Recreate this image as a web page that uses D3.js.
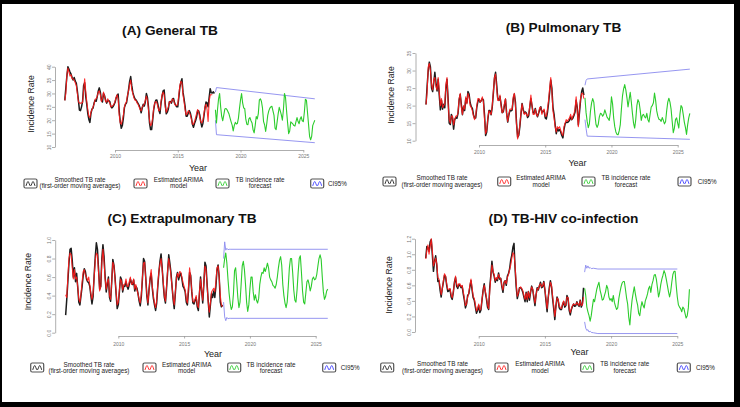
<!DOCTYPE html>
<html><head><meta charset="utf-8">
<script src="https://cdn.jsdelivr.net/npm/d3@7"></script>
<style>body{margin:0;background:#000} svg{display:block;font-family:"Liberation Sans",Arial,sans-serif}</style>
</head><body><svg id="c" width="740" height="407"></svg>
<script>
// ---------------- data ----------------
const startYear = 2006, forecastStart = 2018;
const xTickYears = [2010, 2015, 2020, 2025];
const titles = ["(A) General TB", "(B) Pulmonary TB", "(C) Extrapulmonary TB", "(D) TB-HIV co-infection"];
const legendLabels = [["Smoothed TB rate", "(first-order moving averages)"], ["Estimated ARIMA", "model"], ["TB incidence rate", "forecast"], ["CI95%"]];
const yAxisTitle = "Incidence Rate", xAxisTitle = "Year";

// (A) General TB
const aYTicks = [10, 15, 20, 25, 30, 35, 40];
const aBlack = [27.4,32,36.5,40,39,38,37.2,36,35,36,34.6,33.9,31,27.5,23.8,23.6,25,27,33,34,29,26,22.5,20.3,19.2,22.5,24.2,24.5,26.4,27.5,27.1,28.8,30.9,32.1,30.5,27.5,26.8,30,29.2,27.5,26.4,27.3,27.4,27,25.3,24.6,25,25.7,26.6,28.2,29.3,29.8,23.5,19.5,17,18,20.8,24.7,26,26.5,28.9,31.5,34.5,36.3,33,30.5,29,28,27.6,27,26.3,25.6,24.5,22.8,24.5,26,25.3,26.8,30,28.5,25,19,16.5,16.5,20,24,26.3,27.5,27.6,25.9,23.6,22.5,26.4,29,31,31.3,26.2,22.4,23,24.2,26.9,27,26.4,28,28.1,26.4,25.6,25,25,28.5,32.3,34.3,35.5,30.5,28,25.2,21.5,21.5,22.6,23.6,22.7,21,18.5,17.4,18.8,19.8,21.2,23.6,23.5,22,19.3,17.5,18.8,21.5,24.5,26.8,26.5,25,28.5,31.8,30.3,30.2,30.6,30];
const aRed = [27.4,30,37,39.5,38,36.5,37,35.5,35.5,35,34,33,30,27,26.4,26.4,26.4,26.6,31,35.5,31,27,24,21.5,21,23,24,25,26,27.8,28,29,30.5,31,29.5,27,28,30.5,29,27,26.8,28,27,26.6,25,25.2,25.5,26,27,28.5,29.5,28,22,19,18.5,20,22,25,26.2,27,29.5,31,33.5,35,31.5,30,28.5,27.5,27.5,26.5,26,25,24,23.5,25,25.5,26,27.5,29,27.5,24,20,18,18.5,21,24.5,26.5,27,26.5,25,23.5,23.8,27,29.5,30.5,29.5,25,23,24,25,27,26.5,27,28,27.5,26,25.5,25.5,26,29.5,33,34.5,34,29.5,27,24,22,22.5,23.5,23,22,20.5,18.5,18.5,19.5,21,22.5,24,23,21,19.5,19,20,22.5,25,26,24,19.5,27,29.5,29.5,29.5];
const aGreen = [23.9,19,24,28,30,25,21.4,19.8,22,24.2,24.4,24,23.2,22.3,20.8,19.4,18.2,16,18,19.2,18.6,18.8,20.8,24.5,27.6,30,26.5,24.6,24.4,20.5,18.5,18.3,20.5,21,19.8,19,16.4,15.3,18,21.4,20.5,22.5,27.6,28,27,24.5,19.5,18.3,15.8,18.5,21.8,23.5,24.5,25,25.2,23.5,21.8,17,16.5,19.5,22.5,24.8,23.5,22,20,24,30,28.5,23.5,19,15,16,19.4,19,18.6,18,17.8,19.5,21,19.5,18.7,20.5,21.3,19.8,19.5,23,27.8,27.5,23,18.5,14,12.7,14,18,19,20];
const aCiYears = [2018, 2018.083, 2025.917];
const aCiUpper = [30.5, 32.2, 28.0];
const aCiLower = [20, 14.6, 11.6];

// (B) Pulmonary TB
const bYTicks = [10, 15, 20, 25, 30, 35];
const bBlack = [20.3,25.5,30,32.4,31,25,24,26.5,29.5,26.5,24.2,27.5,23,18.8,21.5,19,20.4,19.4,25,27.5,22,15,14.6,17.5,16.5,13.3,16,16.6,16.4,17.8,21.6,23.2,20.4,17.4,19.7,18.6,22,20.8,24,23.3,20.8,19.7,19.2,17.4,16.4,16.5,19.5,21.2,21.8,21,21.4,22,21.6,17.4,11.5,12.5,16,18.6,18.6,17.4,19.6,23.5,27.8,29.5,26,22,21.5,22.6,20.4,18,18.2,20,21.8,18,15.3,17.2,18.6,18.5,18.7,21.8,23.3,21,15,11,11.5,14,17.5,20.6,19,17.8,18.2,17.8,16.6,17.1,19.5,22,20,18,17.8,19.2,17.7,16.8,17.8,18.9,19.7,18,18.4,18.6,16.5,16.2,18,20.6,23.8,27.3,25,19.5,17.5,14.5,12,13.4,12.8,13.2,12.5,11.5,10.8,13.2,14.8,15.3,15.2,15.4,15.8,16.8,16,16.4,17.2,18.2,21.5,19.5,14.5,18,21.5,24,25,23];
const bRed = [20.3,24,31,32,30,26,24.5,27.5,28,25.5,24.5,28,24,20,22,19.5,20,20.5,26,28,21,16,15,17,17,14.5,16,17,17,18,22,23.5,19.5,17.5,20,19,22.5,20.5,23.5,22.5,20,19.5,18.5,17,16,17,20,22,22,21,21.5,22.5,21,16,12,13,16.5,18.5,18,17.5,20,24,28,29,25,21.5,21.5,23,20,18,18.5,20.5,22,17.5,15.5,17.5,19,19,19,22.5,23.5,20,14.5,10.5,12,14.5,18,20.5,18.5,17.5,18,17.5,17,17.5,20,23,20,17.5,17.5,19,17.5,17,18,19.5,19.5,17.5,18.5,19,17,17,19,21.5,25,28,24,18.5,16.5,14,12.5,14,13.5,14,13,12,11.5,14,15,16,15.5,16,16.5,17.5,16,17,17.5,19,22.5,18.5,14,19,22,23.5,23.5,22];
const bGreen = [22.2,18,15.5,13.7,14.8,18.5,20.8,22,21,17.5,14.6,13.8,14.6,16.8,17.8,17.6,17,17.5,18.8,17.8,16.7,16.3,15.8,18,22.5,20.5,16.5,14,12.5,11.8,11.7,12.8,14.6,19,22.8,24.8,26,24.5,22.3,19.6,21.7,23.8,21,17.8,15,13.6,16,20,21.7,21,18.8,15.8,17.2,17.5,16.8,16.5,17.8,16,15.3,17.5,19.6,20,20.8,23.6,21.5,18.5,17,16.1,16,15.5,16.6,15.8,14.8,15.4,18.5,21,22.1,21,19,15.5,12.3,13.6,16,16.5,15,13.6,17.5,20,19.5,17.5,15.3,13.8,11.8,14.5,16.5,17.8];
const bCiYears = [2018, 2018.083, 2018.167, 2025.917];
const bCiUpper = [25.8, 27.2, 27.6, 30.4];
const bCiLower = [16, 13.5, 11.3, 10.4];

// (C) Extrapulmonary TB
const cYTicks = [0, 0.2, 0.4, 0.6, 0.8, 1.0];
const cBlack = [0.19,0.36,0.55,0.75,0.9,0.91,0.78,0.6,0.7,0.55,0.64,0.49,0.33,0.3,0.4,0.5,0.62,0.69,0.66,0.58,0.55,0.54,0.5,0.4,0.31,0.39,0.62,0.82,0.97,0.9,0.68,0.47,0.5,0.8,0.95,0.82,0.6,0.44,0.52,0.6,0.38,0.34,0.55,0.79,0.73,0.6,0.42,0.26,0.3,0.44,0.6,0.57,0.44,0.5,0.5,0.55,0.5,0.47,0.52,0.58,0.54,0.52,0.57,0.45,0.5,0.48,0.42,0.34,0.29,0.39,0.58,0.8,0.77,0.6,0.4,0.3,0.46,0.58,0.64,0.48,0.37,0.3,0.24,0.32,0.5,0.65,0.77,0.85,0.7,0.52,0.38,0.32,0.48,0.66,0.84,0.75,0.65,0.5,0.36,0.26,0.42,0.6,0.65,0.57,0.62,0.64,0.58,0.5,0.48,0.44,0.33,0.3,0.45,0.65,0.62,0.44,0.32,0.31,0.35,0.38,0.28,0.24,0.42,0.6,0.45,0.32,0.52,0.76,0.72,0.52,0.34,0.17,0.3,0.42,0.38,0.45,0.38,0.5,0.68,0.73,0.6,0.33,0.28,0.3];
const cRed = [0.41,0.38,0.6,0.8,0.86,0.84,0.7,0.58,0.68,0.58,0.6,0.5,0.36,0.33,0.42,0.55,0.66,0.68,0.62,0.6,0.56,0.6,0.52,0.42,0.36,0.43,0.6,0.78,0.86,0.84,0.65,0.45,0.5,0.76,0.9,0.76,0.58,0.47,0.55,0.58,0.4,0.36,0.55,0.76,0.72,0.58,0.44,0.3,0.33,0.46,0.58,0.55,0.46,0.52,0.52,0.58,0.5,0.5,0.55,0.6,0.52,0.53,0.58,0.47,0.52,0.46,0.42,0.36,0.32,0.42,0.6,0.75,0.76,0.58,0.42,0.32,0.45,0.6,0.68,0.5,0.4,0.32,0.27,0.35,0.52,0.66,0.74,0.8,0.68,0.55,0.4,0.34,0.5,0.68,0.8,0.72,0.62,0.5,0.38,0.3,0.44,0.58,0.64,0.6,0.66,0.65,0.6,0.54,0.5,0.46,0.36,0.32,0.5,0.7,0.6,0.45,0.34,0.33,0.36,0.4,0.3,0.27,0.44,0.58,0.46,0.35,0.55,0.72,0.68,0.5,0.33,0.22,0.32,0.44,0.46,0.48,0.44,0.55,0.7,0.72,0.6,0.4,0.3,0.28];
const cGreen = [0.7,0.8,0.86,0.75,0.58,0.43,0.32,0.25,0.28,0.42,0.67,0.7,0.55,0.38,0.27,0.33,0.52,0.72,0.77,0.68,0.52,0.33,0.23,0.3,0.47,0.6,0.6,0.44,0.35,0.41,0.35,0.32,0.37,0.52,0.6,0.65,0.64,0.7,0.66,0.7,0.75,0.7,0.6,0.57,0.55,0.51,0.5,0.48,0.52,0.6,0.7,0.78,0.82,0.73,0.52,0.4,0.32,0.27,0.33,0.5,0.7,0.8,0.8,0.65,0.46,0.35,0.33,0.46,0.65,0.8,0.83,0.65,0.45,0.33,0.31,0.43,0.55,0.57,0.52,0.45,0.5,0.58,0.6,0.57,0.58,0.63,0.72,0.8,0.84,0.79,0.6,0.44,0.36,0.39,0.45,0.47];
const cCiYears = [2018, 2018.083, 2018.167, 2018.25, 2018.333, 2018.417, 2018.5, 2025.917];
const cCiUpper = [0.8, 0.98, 0.89, 0.91, 0.895, 0.9, 0.9, 0.9];
const cCiLower = [0.33, 0.17, 0.13, 0.165, 0.15, 0.155, 0.155, 0.155];

// (D) TB-HIV co-infection
const dYTicks = [0, 0.2, 0.4, 0.6, 0.8, 1.0, 1.2];
const dBlack = [0.95,1.1,1.08,1.04,1.16,1.19,0.99,0.78,0.91,0.98,0.86,0.65,0.66,0.54,0.45,0.56,0.64,0.73,0.71,0.6,0.52,0.53,0.55,0.45,0.42,0.51,0.64,0.7,0.59,0.56,0.61,0.6,0.57,0.59,0.49,0.41,0.31,0.36,0.47,0.49,0.58,0.66,0.54,0.44,0.41,0.32,0.24,0.28,0.34,0.25,0.28,0.41,0.54,0.62,0.51,0.43,0.32,0.29,0.57,0.73,0.91,0.77,0.72,0.64,0.69,0.66,0.76,0.68,0.69,0.58,0.51,0.64,0.66,0.6,0.72,0.75,0.81,0.92,0.99,1.09,1.14,0.81,0.58,0.43,0.49,0.57,0.57,0.55,0.51,0.45,0.39,0.51,0.39,0.52,0.41,0.51,0.59,0.54,0.44,0.34,0.48,0.57,0.54,0.59,0.64,0.57,0.58,0.65,0.54,0.4,0.26,0.44,0.57,0.66,0.58,0.43,0.3,0.16,0.34,0.45,0.41,0.31,0.29,0.29,0.35,0.39,0.32,0.34,0.47,0.43,0.28,0.22,0.29,0.33,0.36,0.33,0.34,0.39,0.35,0.33,0.41,0.32,0.36,0.57];
const dRed = [0.94,1.05,1.12,1.0,1.1,1.2,1.05,0.85,0.9,0.95,0.88,0.7,0.68,0.58,0.48,0.55,0.66,0.75,0.72,0.62,0.55,0.55,0.56,0.48,0.44,0.52,0.63,0.72,0.62,0.58,0.62,0.62,0.58,0.6,0.52,0.44,0.34,0.36,0.45,0.5,0.6,0.68,0.57,0.46,0.43,0.35,0.27,0.3,0.36,0.28,0.3,0.42,0.52,0.6,0.53,0.45,0.35,0.3,0.52,0.7,0.86,0.78,0.74,0.66,0.7,0.68,0.74,0.7,0.68,0.6,0.54,0.63,0.66,0.62,0.7,0.74,0.8,0.86,0.95,1.02,1.0,0.85,0.62,0.46,0.5,0.56,0.58,0.56,0.53,0.47,0.42,0.5,0.42,0.52,0.44,0.52,0.58,0.55,0.46,0.37,0.47,0.56,0.55,0.6,0.62,0.58,0.6,0.64,0.55,0.43,0.3,0.44,0.55,0.64,0.6,0.46,0.34,0.2,0.32,0.44,0.42,0.34,0.31,0.3,0.36,0.4,0.34,0.35,0.45,0.44,0.3,0.25,0.3,0.34,0.36,0.35,0.35,0.38,0.36,0.34,0.4,0.34,0.35,0.45];
const dGreen = [0.56,0.47,0.32,0.26,0.21,0.14,0.21,0.32,0.42,0.39,0.47,0.55,0.6,0.64,0.54,0.48,0.41,0.42,0.47,0.52,0.6,0.56,0.45,0.41,0.43,0.39,0.47,0.38,0.33,0.29,0.31,0.43,0.51,0.58,0.63,0.65,0.65,0.55,0.44,0.36,0.19,0.09,0.27,0.41,0.5,0.58,0.49,0.41,0.35,0.24,0.21,0.32,0.39,0.34,0.31,0.4,0.44,0.49,0.56,0.59,0.51,0.61,0.66,0.73,0.74,0.68,0.57,0.45,0.51,0.61,0.68,0.73,0.79,0.75,0.68,0.6,0.52,0.45,0.52,0.64,0.74,0.78,0.78,0.6,0.45,0.35,0.32,0.3,0.26,0.32,0.3,0.24,0.18,0.21,0.31,0.55];
const dCiYears = [2018, 2018.083, 2018.167, 2018.25, 2018.333, 2018.417, 2018.5, 2018.667, 2019, 2025];
const dCiUpper = [0.77, 0.86, 0.82, 0.85, 0.82, 0.83, 0.815, 0.82, 0.81, 0.81];
const dCiLower = [0.13, 0.05, 0.02, 0.03, 0.0, 0.01, -0.005, -0.01, -0.02, -0.02];

// ---------------- layout ----------------
const panels = [
  {title: titles[0], black: aBlack, red: aRed, green: aGreen, ciT: aCiYears, ciU: aCiUpper, ciL: aCiLower, yTicks: aYTicks, fmt: d3.format("d"),
   px: [115, 303.3], py: [147, 66.7], axX: 55, axY: 150, xLabY: 157.5, titlePos: [170, 35], yt: [34, 104], xt: [198, 171],
   icons: [24, 134, 216, 310.7], iconY: 179, txt: [80, 178.5, 260], ciX: 328, lines: [181.5, 187.8], ciBase: 185.5},
  {title: titles[1], black: bBlack, red: bRed, green: bGreen, ciT: bCiYears, ciU: bCiUpper, ciL: bCiLower, yTicks: bYTicks, fmt: d3.format("d"),
   px: [479, 677.7], py: [140.7, 53], axX: 415.5, axY: 145, xLabY: 153.5, titlePos: [563.5, 31.5], yt: [394, 95], xt: [577.5, 165.5],
   icons: [383, 497.7, 582, 678], iconY: 177, txt: [442, 541, 626], ciX: 697.7, lines: [180, 186.8], ciBase: 184},
  {title: titles[2], black: cBlack, red: cRed, green: cGreen, ciT: cCiYears, ciU: cCiUpper, ciL: cCiLower, yTicks: cYTicks, fmt: d3.format(".1f"),
   px: [118.3, 315.7], py: [332.7, 240], axX: 55.2, axY: 336, xLabY: 346, titlePos: [182, 222.5], yt: [31, 281.7], xt: [213, 357],
   icons: [30.7, 143, 227.7, 322.7], iconY: 363, txt: [89, 186.7, 271], ciX: 340.7, lines: [366.5, 373.3], ciBase: 370},
  {title: titles[3], black: dBlack, red: dRed, green: dGreen, ciT: dCiYears, ciU: dCiUpper, ciL: dCiLower, yTicks: dYTicks, fmt: d3.format(".1f"),
   px: [478.7, 677.3], py: [332, 238.7], axX: 415, axY: 336, xLabY: 346, titlePos: [563.5, 223], yt: [391.5, 285], xt: [579.5, 355],
   icons: [380.7, 495, 580.7, 677.3], iconY: 363, txt: [442.5, 540, 624.7], ciX: 696, lines: [366, 372.8], ciBase: 369.5}
];

const svg = d3.select("#c");
svg.append("rect").attr("x", 2).attr("y", 4).attr("width", 732).attr("height", 398).attr("fill", "#fff");

const colBlack = "#1c1c1c", colRed = "#ff1a1a", colGreen = "#2ccc2c", colBlue = "#8a8aee";
const iconColors = [colBlack, colRed, colGreen, "#3a3aff"];

panels.forEach((p, pi) => {
  const g = svg.append("g");
  const x = d3.scaleLinear().domain([2010, 2025]).range(p.px);
  const yd = [p.yTicks[0], p.yTicks[p.yTicks.length - 1]];
  const y = d3.scaleLinear().domain(yd).range(p.py);
  const line = d3.line().x(d => x(d.t)).y(d => y(d.v));

  const obsB = p.black.map((v, i) => ({t: startYear + i / 12, v}));
  const obsR = p.red.map((v, i) => ({t: startYear + i / 12, v}));
  const fc = p.green.map((v, i) => ({t: forecastStart + i / 12, v}));
  const up = p.ciT.map((t, i) => ({t, v: p.ciU[i]}));
  const lo = p.ciT.map((t, i) => ({t, v: p.ciL[i]}));

  // axes
  const yAxis = g.append("g").attr("transform", `translate(${p.axX},0)`)
    .call(d3.axisLeft(y).tickValues(p.yTicks).tickFormat(p.fmt).tickSize(3).tickSizeOuter(0));
  yAxis.select(".domain").attr("stroke", "#999").attr("stroke-width", 0.8);
  yAxis.selectAll(".tick line").attr("stroke", "#999").attr("stroke-width", 0.8);
  yAxis.selectAll(".tick text").attr("transform", "rotate(-90)").attr("x", 0).attr("y", -4.5).attr("dy", 0)
    .attr("text-anchor", "middle").attr("font-size", 5).attr("fill", "#777").attr("font-family", "Liberation Sans, Arial, sans-serif");

  const xAxis = g.append("g").attr("transform", `translate(0,${p.axY})`)
    .call(d3.axisBottom(x).tickValues(xTickYears).tickFormat(d3.format("d")).tickSize(2.5).tickSizeOuter(0));
  xAxis.select(".domain").attr("stroke", "#999").attr("stroke-width", 0.8);
  xAxis.selectAll(".tick line").attr("stroke", "#999").attr("stroke-width", 0.8);
  xAxis.selectAll(".tick text").attr("y", p.xLabY - p.axY).attr("dy", 0)
    .attr("font-size", 5).attr("fill", "#777").attr("font-family", "Liberation Sans, Arial, sans-serif");

  // series
  g.append("path").datum(up).attr("d", line).attr("fill", "none").attr("stroke", colBlue).attr("stroke-width", 0.9);
  g.append("path").datum(lo).attr("d", line).attr("fill", "none").attr("stroke", colBlue).attr("stroke-width", 0.9);
  g.append("path").datum(obsB).attr("d", line).attr("fill", "none").attr("stroke", colBlack).attr("stroke-width", 1.5).attr("stroke-linejoin", "round");
  g.append("path").datum(obsR).attr("d", line).attr("fill", "none").attr("stroke", colRed).attr("stroke-width", 1.1).attr("stroke-opacity", 0.9).attr("stroke-linejoin", "round");
  g.append("path").datum(fc).attr("d", line).attr("fill", "none").attr("stroke", colGreen).attr("stroke-width", 1.1).attr("stroke-linejoin", "round");

  // titles
  g.append("text").attr("x", p.titlePos[0]).attr("y", p.titlePos[1]).attr("text-anchor", "middle")
    .attr("font-size", 13.7).attr("font-weight", "bold").attr("fill", "#111").text(p.title);
  g.append("text").attr("transform", `translate(${p.yt[0]},${p.yt[1]}) rotate(-90)`).attr("text-anchor", "middle")
    .attr("font-size", 8.6).attr("fill", "#222").text(yAxisTitle);
  g.append("text").attr("x", p.xt[0]).attr("y", p.xt[1]).attr("text-anchor", "middle")
    .attr("font-size", 9).attr("fill", "#222").text(xAxisTitle);

  // legend
  p.icons.forEach((ix, k) => {
    const iy = p.iconY;
    g.append("rect").attr("x", ix).attr("y", iy).attr("width", 13).attr("height", 9).attr("rx", 1.5)
      .attr("fill", "#fff").attr("stroke", "#555").attr("stroke-width", 1.2);
    const wave = [[2, 7], [4, 2.5], [6.5, 7], [9, 2.5], [11, 7]].map(d => [ix + d[0], iy + d[1]]);
    g.append("path").attr("d", d3.line().curve(d3.curveCardinal)(wave)).attr("fill", "none")
      .attr("stroke", iconColors[k]).attr("stroke-width", 0.9);
    const lbl = legendLabels[k];
    if (k < 3) {
      lbl.forEach((s, j) => {
        g.append("text").attr("x", p.txt[k]).attr("y", p.lines[j]).attr("text-anchor", "middle")
          .attr("font-size", 6.3).attr("fill", "#222").text(s);
      });
    } else {
      g.append("text").attr("x", p.ciX).attr("y", p.ciBase).attr("font-size", 6.3).attr("fill", "#222").text(lbl[0]);
    }
  });
});
</script>
</body></html>
